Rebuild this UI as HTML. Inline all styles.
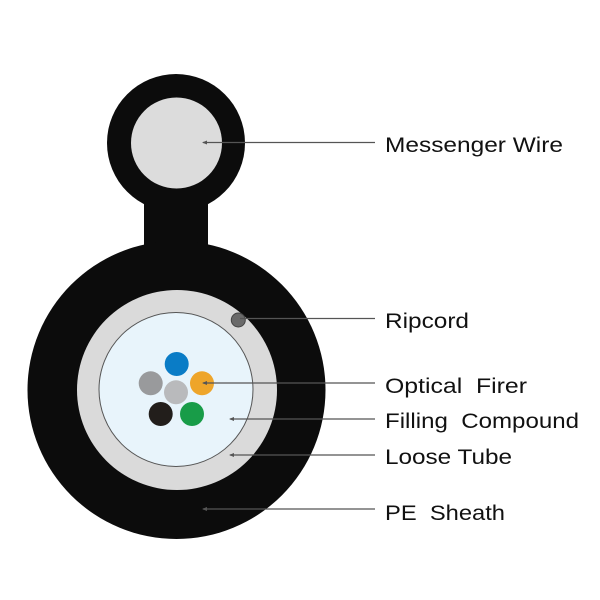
<!DOCTYPE html>
<html>
<head>
<meta charset="utf-8">
<style>
  html,body{margin:0;padding:0;background:#fff;}
  svg{display:block;}
  text{font-family:"Liberation Sans",Arial,sans-serif;font-size:21px;fill:#111;}
</style>
</head>
<body>
<svg width="600" height="600" viewBox="0 0 600 600" xmlns="http://www.w3.org/2000/svg">
  <rect width="600" height="600" fill="#fff"/>
  <!-- messenger ring -->
  <circle cx="176" cy="143" r="69" fill="#0c0c0c"/>
  <rect x="144" y="185" width="64" height="70" fill="#0c0c0c"/>
  <circle cx="176.5" cy="143" r="45.5" fill="#dcdcdc"/>
  <!-- main sheath -->
  <circle cx="176.5" cy="390" r="149" fill="#0c0c0c"/>
  <circle cx="177" cy="390" r="100" fill="#dadada"/>
  <circle cx="176" cy="389.5" r="77" fill="#e8f4fb" stroke="#555" stroke-width="1"/>
  <!-- ripcord -->
  <circle cx="238.3" cy="320" r="7" fill="#6a6a6a" stroke="#444" stroke-width="1"/>
  <!-- fibers -->
  <circle cx="176.7" cy="364" r="12" fill="#0a7cc6"/>
  <circle cx="150.7" cy="383.3" r="12" fill="#999a9c"/>
  <circle cx="176" cy="392.3" r="12" fill="#b9babc"/>
  <circle cx="202" cy="383.3" r="12" fill="#eea52a"/>
  <circle cx="160.7" cy="414" r="12" fill="#221e1b"/>
  <circle cx="192" cy="414" r="12" fill="#189c48"/>
  <!-- leader lines -->
  <g stroke="#555" stroke-width="1.2" fill="none">
    <line x1="203" y1="142.5" x2="375" y2="142.5"/>
    <line x1="240" y1="318.5" x2="375" y2="318.5"/>
    <line x1="203" y1="383" x2="375" y2="383"/>
    <line x1="230" y1="419" x2="375" y2="419"/>
    <line x1="230" y1="455" x2="375" y2="455"/>
    <line x1="203" y1="509" x2="375" y2="509"/>
  </g>
  <g fill="#555">
    <polygon points="202,142.5 207,140.5 207,144.5"/>
    <polygon points="202,383 207,381 207,385"/>
    <polygon points="229,419 234,417 234,421"/>
    <polygon points="229,455 234,453 234,457"/>
    <polygon points="202,509 207,507 207,511"/>
  </g>
  <!-- labels -->
  <text x="385" y="152" textLength="178" lengthAdjust="spacingAndGlyphs">Messenger Wire</text>
  <text x="385" y="328" textLength="84" lengthAdjust="spacingAndGlyphs">Ripcord</text>
  <text x="385" y="393" textLength="142" lengthAdjust="spacingAndGlyphs">Optical&#160; Firer</text>
  <text x="385" y="428" textLength="194" lengthAdjust="spacingAndGlyphs">Filling&#160; Compound</text>
  <text x="385" y="464" textLength="127" lengthAdjust="spacingAndGlyphs">Loose Tube</text>
  <text x="385" y="520" textLength="120" lengthAdjust="spacingAndGlyphs">PE&#160; Sheath</text>
</svg>
</body>
</html>
